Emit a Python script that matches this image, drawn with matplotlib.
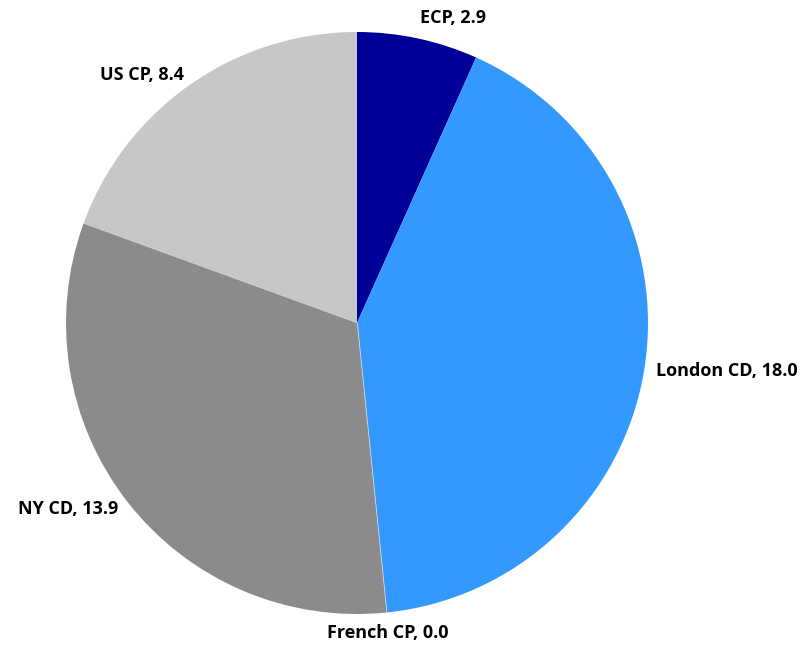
import matplotlib.pyplot as plt

# data
labels = ["ECP", "London CD", "French CP", "NY CD", "US CP"]
values = [2.9, 18.0, 0.0, 13.9, 8.4]
colors = ["#000099", "#3399FF", "#D9D9D9", "#8B8B8D", "#C8C6C8"]

plt.rcParams['font.family'] = ['Open Sans', 'DejaVu Sans']

fig = plt.figure(figsize=(8.03, 6.52), dpi=100)
ax = fig.add_axes([66/803, 38/652, 582/803, 582/652])

texts_in = [f"{l}, {v:.1f}" for l, v in zip(labels, values)]
wedges, texts = ax.pie(values, labels=texts_in, colors=colors, startangle=90,
                       counterclock=False, labeldistance=1.04, radius=1,
                       wedgeprops=dict(linewidth=0),
                       textprops=dict(fontsize=13, fontweight='bold', color='black'))

# the zero slice only shows as a thin light line
wedges[2].set_edgecolor("#E6E6E6")
wedges[2].set_linewidth(1.0)

# tweak label alignment the way the original sits
texts[0].set_va('bottom')
texts[2].set_ha('center')
texts[2].set_va('top')

ax.set_xlim(-1, 1)
ax.set_ylim(-1, 1)
ax.set_aspect('equal')

fig.savefig("out.png", dpi=100)
